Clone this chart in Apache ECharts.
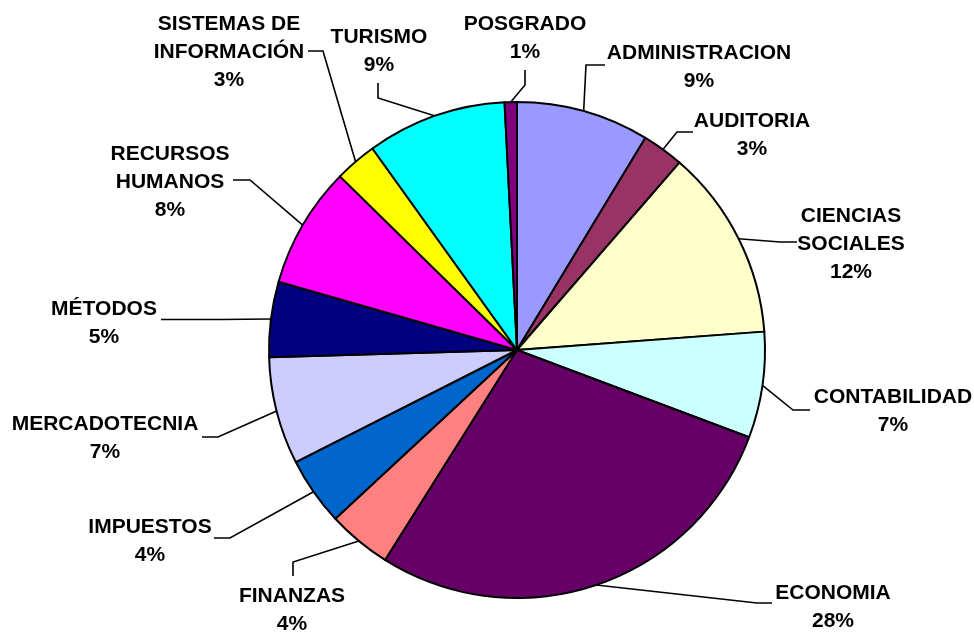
<!DOCTYPE html>
<html>
<head>
<meta charset="utf-8">
<title>Distribución por área</title>
<script src="https://cdn.jsdelivr.net/npm/echarts@6/dist/echarts.min.js"></script>
<style>
  html, body { margin: 0; padding: 0; background: #fff; }
  #chart { width: 974px; height: 632px; }
</style>
</head>
<body>
<div id="chart"></div>
<script>
/* --- data (% of total) --- */
const areas = [
  'ADMINISTRACION', 'AUDITORIA', 'CIENCIAS\nSOCIALES', 'CONTABILIDAD', 'ECONOMIA',
  'FINANZAS', 'IMPUESTOS', 'MERCADOTECNIA', 'MÉTODOS', 'RECURSOS\nHUMANOS',
  'SISTEMAS DE\nINFORMACIÓN', 'TURISMO', 'POSGRADO'
];
const shares = [8.66, 2.7, 12.45, 6.9, 28.2, 4.15, 4.45, 7.0, 4.9, 7.9, 2.75, 9.1, 0.8];
const sliceColors = [
  '#9999FF', '#993366', '#FFFFCC', '#CCFFFF', '#660066',
  '#FF8080', '#0066CC', '#CCCCFF', '#000080', '#FF00FF',
  '#FFFF00', '#00FFFF', '#800080'
];

/* label placement: text centre, elbow of the leader line, end next to the text */
const labelSpots = [
  { x: 699, y: 67,  elbow: [586, 65],  end: [605, 65] },
  { x: 752, y: 135, elbow: [677, 132], end: [693, 132] },
  { x: 851, y: 244, elbow: [780, 242], end: [797, 242] },
  { x: 893, y: 411, elbow: [793, 410], end: [810, 410] },
  { x: 833, y: 607, elbow: [757, 603], end: [772, 603] },
  { x: 292, y: 610, elbow: [293, 562], end: [293, 576] },
  { x: 150, y: 541, elbow: [230, 538], end: [214, 538] },
  { x: 105, y: 438, elbow: [218, 437], end: [202, 437] },
  { x: 104, y: 323, elbow: [220, 319.5], end: [161, 319.5] },
  { x: 170, y: 182, elbow: [250, 180], end: [233, 180] },
  { x: 229, y: 52,  elbow: [323, 51],  end: [308, 51] },
  { x: 379, y: 51,  elbow: [378, 98],  end: [378, 83] },
  { x: 525, y: 38,  elbow: [525, 85],  end: [525, 70] }
];

const chart = echarts.init(document.getElementById('chart'), null, { renderer: 'canvas' });

chart.setOption({
  backgroundColor: '#ffffff',
  animation: false,
  series: [{
    type: 'pie',
    center: [517, 350],
    radius: 248,
    startAngle: 90,
    clockwise: true,
    avoidLabelOverlap: false,
    minShowLabelAngle: 0,
    percentPrecision: 0,
    data: areas.map((name, i) => ({
      name,
      value: shares[i],
      itemStyle: { color: sliceColors[i] }
    })),
    itemStyle: { borderColor: '#000', borderWidth: 2 },
    label: {
      show: true,
      position: 'outside',
      formatter: '{b}\n{d}%',
      color: '#000',
      fontFamily: '"Liberation Sans", Arial, sans-serif',
      fontWeight: 'bold',
      fontSize: 21,
      lineHeight: 28,
      align: 'center'
    },
    labelLine: {
      show: true,
      length: 10,
      length2: 10,
      lineStyle: { color: '#000', width: 1.6 }
    },
    labelLayout: (params) => {
      const s = labelSpots[params.dataIndex];
      const start = params.labelLinePoints ? params.labelLinePoints[0] : s.elbow;
      return {
        x: s.x,
        y: s.y,
        align: 'center',
        verticalAlign: 'middle',
        labelLinePoints: [start, s.elbow, s.end]
      };
    },
    emphasis: { disabled: true }
  }]
});
</script>
</body>
</html>
